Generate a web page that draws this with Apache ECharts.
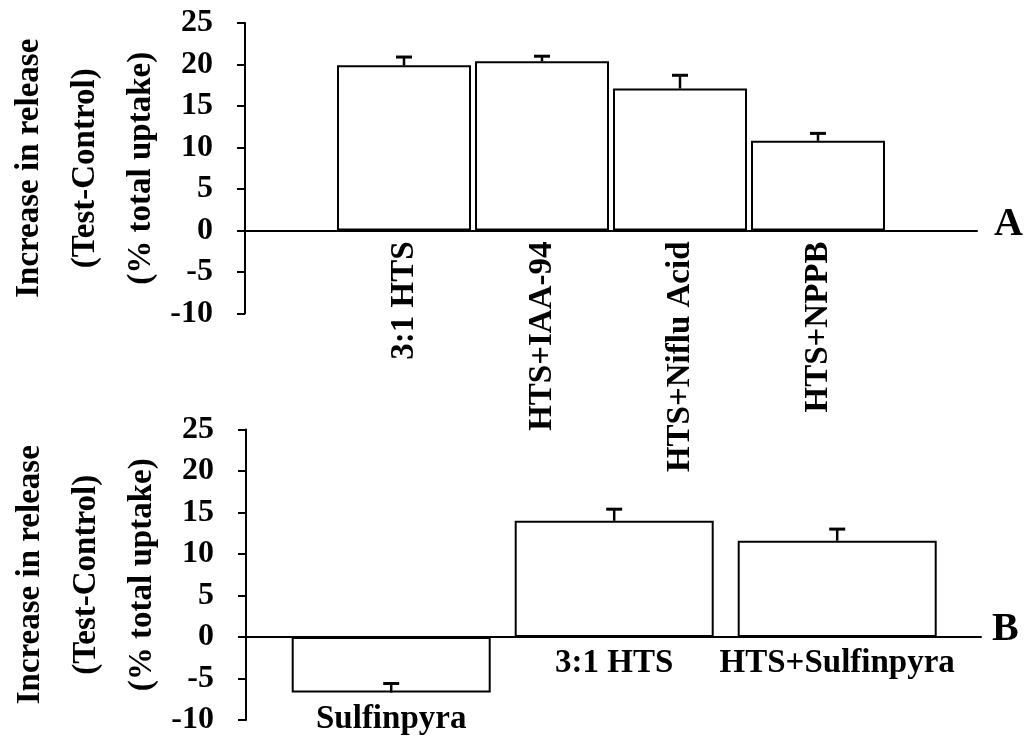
<!DOCTYPE html>
<html>
<head>
<meta charset="utf-8">
<script src="https://cdn.jsdelivr.net/npm/echarts@6/dist/echarts.min.js"></script>
<style>
  html, body { margin: 0; padding: 0; background: #fff; }
  #chart { width: 1029px; height: 739px; }
</style>
</head>
<body>
<div id="chart"></div>
<script>
// Panel A: chloride-channel blockers
const catsA = ['3:1 HTS', 'HTS+IAA-94', 'HTS+Niflu Acid', 'HTS+NPPB'];
const valsA = [19.9, 20.4, 17.1, 10.8];
const errA = [1.0, 0.6, 1.6, 0.9];

// Panel B: sulfinpyrazone
const catsB = ['Sulfinpyra', '3:1 HTS', 'HTS+Sulfinpyra'];
const valsB = [-6.7, 14.0, 11.6];
const errB = [1.1, 1.4, 1.4];

// Shared value axis
const yMin = -10;
const yMax = 25;
const yStep = 5;
const yName = 'Increase in release\n(Test-Control)\n(% total uptake)';

const FONT = "'Liberation Serif', 'Times New Roman', serif";

const chart = echarts.init(document.getElementById('chart'), null, { renderer: 'canvas' });

function frameX(gridIndex) {
  return {
    gridIndex: gridIndex, type: 'value', min: 0, max: 1,
    axisLine: { show: true, onZero: true, lineStyle: { color: '#000', width: 2 } },
    axisTick: { show: false }, axisLabel: { show: false }, splitLine: { show: false }
  };
}

function frameY(gridIndex) {
  return {
    gridIndex: gridIndex, type: 'value', min: yMin, max: yMax, interval: yStep,
    name: yName, nameLocation: 'middle', nameGap: 76, nameRotate: 90, nameMoveOverlap: false,
    nameTextStyle: { fontFamily: FONT, fontSize: 33, fontWeight: 'bold', color: '#000', lineHeight: 56 },
    axisLine: { show: true, lineStyle: { color: '#000', width: 2 } },
    axisTick: { show: true, inside: false, length: 8, lineStyle: { color: '#000', width: 2 } },
    axisLabel: { fontFamily: FONT, fontSize: 32, fontWeight: 'bold', color: '#000', margin: 32 },
    splitLine: { show: false }
  };
}

// Value axis of a bar grid: same scale as the frame, nothing drawn
function quietY(gridIndex) {
  return {
    gridIndex: gridIndex, type: 'value', min: yMin, max: yMax, interval: yStep,
    axisLine: { show: false }, axisTick: { show: false }, axisLabel: { show: false }, splitLine: { show: false }
  };
}

function errorSeries(xi, yi, vals, errs) {
  return {
    type: 'custom', xAxisIndex: xi, yAxisIndex: yi, clip: false, z: 5,
    data: vals.map((v, i) => [i, v, v + errs[i]]),
    encode: { x: 0, y: [1, 2] },
    renderItem: function (params, api) {
      const p0 = api.coord([api.value(0), api.value(1)]);
      const p1 = api.coord([api.value(0), api.value(2)]);
      const half = 8;
      return {
        type: 'group',
        children: [
          { type: 'line', shape: { x1: p0[0], y1: p0[1], x2: p1[0], y2: p1[1] }, style: { stroke: '#000', lineWidth: 2.5 } },
          { type: 'line', shape: { x1: p1[0] - half, y1: p1[1], x2: p1[0] + half, y2: p1[1] }, style: { stroke: '#000', lineWidth: 3 } }
        ]
      };
    }
  };
}

const option = {
  backgroundColor: '#fff',
  animation: false,
  grid: [
    { left: 245, top: 23, width: 732, height: 290.5, outerBoundsMode: 'none' },
    { left: 335, top: 23, width: 552, height: 290.5, outerBoundsMode: 'none' },
    { left: 246, top: 429.5, width: 735, height: 290.5, outerBoundsMode: 'none' },
    { left: 279.7, top: 429.5, width: 669, height: 290.5, outerBoundsMode: 'none' }
  ],
  xAxis: [
    frameX(0),
    {
      gridIndex: 1, type: 'category', data: catsA,
      axisLine: { show: false, onZero: false }, axisTick: { show: false },
      axisLabel: { interval: 0, rotate: 90, margin: 11, fontFamily: FONT, fontSize: 33, fontWeight: 'bold', color: '#000' },
      splitLine: { show: false }
    },
    frameX(2),
    {
      gridIndex: 3, type: 'category', data: catsB,
      axisLine: { show: false, onZero: false }, axisTick: { show: false },
      axisLabel: { show: false }, splitLine: { show: false }
    }
  ],
  yAxis: [frameY(0), quietY(1), frameY(2), quietY(3)],
  series: [
    {
      type: 'bar', xAxisIndex: 1, yAxisIndex: 1, data: valsA, barWidth: 134,
      itemStyle: { color: '#fff', borderColor: '#000', borderWidth: 2 }
    },
    errorSeries(1, 1, valsA, errA),
    {
      type: 'bar', xAxisIndex: 3, yAxisIndex: 3, data: valsB, barWidth: 199,
      itemStyle: { color: '#fff', borderColor: '#000', borderWidth: 2 },
      label: { show: true, position: 'bottom', distance: 10, formatter: '{b}', fontFamily: FONT, fontSize: 33, fontWeight: 'bold', color: '#000' }
    },
    errorSeries(3, 3, valsB, errB)
  ],
  graphic: [
    { type: 'text', left: 994, top: 205, style: { text: 'A', fontFamily: FONT, fontSize: 40, fontWeight: 'bold', fill: '#000' } },
    { type: 'text', left: 992, top: 610, style: { text: 'B', fontFamily: FONT, fontSize: 40, fontWeight: 'bold', fill: '#000' } }
  ]
};

chart.setOption(option);

// Lift the panel-A category labels from the grid bottom up to the zero line
const zeroPx = chart.convertToPixel({ yAxisIndex: 1 }, 0);
const bottomPx = chart.convertToPixel({ yAxisIndex: 1 }, yMin);
chart.setOption({ xAxis: [{}, { offset: zeroPx - bottomPx }, {}, {}] });
</script>
</body>
</html>
